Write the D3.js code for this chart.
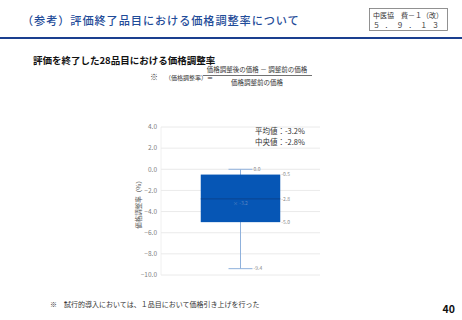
<!DOCTYPE html>
<html lang="ja">
<head>
    <meta charset="utf-8">
    <title>価格調整率</title>
    <style>
        body { margin: 0; background: white; }
        svg { display: block; font-family: "Noto Sans CJK JP", sans-serif; }
        .tick-label { font-size: 6.5px; fill: #808080; text-anchor: end; }
        .grid { stroke: #e4e4e4; stroke-width: 0.8; }
        .val { font-size: 5px; fill: #8a8a8a; }
    </style>
    <script src="https://d3js.org/d3.v7.min.js"></script>
</head>
<body>
<svg id="chart" width="462" height="320"></svg>
<script>
    // データ
    const categories = ["価格調整率"];
    const boxMin = [-9.4];
    const boxQ1 = [-5.0];
    const boxMedian = [-2.8];
    const boxQ3 = [-0.5];
    const boxMax = [0.0];
    const boxMean = [-3.2];
    const yTicks = [4, 2, 0, -2, -4, -6, -8, -10];

    const svg = d3.select("#chart");

    // ヘッダー
    svg.append("text")
        .attr("x", 22).attr("y", 25)
        .attr("font-size", 11.2).attr("fill", "#1f4c99")
        .attr("letter-spacing", 0.9)
        .attr("font-weight", 500)
        .text("（参考）評価終了品目における価格調整率について");

    svg.append("rect")
        .attr("x", 369.5).attr("y", 8.5).attr("width", 78).attr("height", 22)
        .attr("fill", "white").attr("stroke", "#777").attr("stroke-width", 0.8);
    svg.append("text")
        .attr("x", 373).attr("y", 18).attr("font-size", 7).attr("fill", "#333")
        .text("中医協　費－１（改）");
    svg.append("text")
        .attr("x", 373).attr("y", 28).attr("font-size", 7).attr("fill", "#333")
        .attr("letter-spacing", 4.8)
        .text("５．９．１３");

    svg.append("rect")
        .attr("x", 0).attr("y", 37).attr("width", 462).attr("height", 2)
        .attr("fill", "#1a3f8f");

    svg.append("text")
        .attr("x", 33).attr("y", 64)
        .attr("font-size", 9.5).attr("font-weight", "bold").attr("fill", "#111")
        .text("評価を終了した28品目における価格調整率");

    // 式
    svg.append("text")
        .attr("x", 150).attr("y", 80).attr("font-size", 8).attr("fill", "#333")
        .text("※");
    svg.append("text")
        .attr("x", 165).attr("y", 79.5).attr("font-size", 6).attr("fill", "#333")
        .text("（価格調整率）＝");
    svg.append("text")
        .attr("x", 257).attr("y", 72).attr("font-size", 6.5).attr("fill", "#333")
        .attr("text-anchor", "middle")
        .text("価格調整後の価格 － 調整前の価格");
    svg.append("line")
        .attr("x1", 203).attr("x2", 312).attr("y1", 75.5).attr("y2", 75.5)
        .attr("stroke", "#333").attr("stroke-width", 0.7);
    svg.append("text")
        .attr("x", 257).attr("y", 85).attr("font-size", 6.5).attr("fill", "#333")
        .attr("text-anchor", "middle")
        .text("価格調整前の価格");

    // チャート
    const left = 161, right = 320;
    const y = d3.scaleLinear().domain([-10, 4]).range([275, 127]);
    const x = d3.scaleBand().domain(categories).range([left, right]).paddingInner(0).paddingOuter(0.5);

    const grid = svg.append("g");
    yTicks.forEach(t => {
        grid.append("line").attr("class", "grid")
            .attr("x1", left).attr("x2", right)
            .attr("y1", y(t)).attr("y2", y(t));
        grid.append("text").attr("class", "tick-label")
            .attr("x", left - 4).attr("y", y(t) + 2.3)
            .text(d3.format(".1f")(t));
    });
    svg.append("line")
        .attr("x1", left).attr("x2", left).attr("y1", y(4)).attr("y2", y(-10))
        .attr("stroke", "#ececec").attr("stroke-width", 0.8);

    svg.append("text")
        .attr("transform", `translate(141,${(y(4) + y(-10)) / 2 + 2}) rotate(-90)`)
        .attr("font-size", 6.5).attr("fill", "#555").attr("text-anchor", "middle")
        .text("価格調整率（%）");

    categories.forEach((c, i) => {
        const x0 = x(c), w = x.bandwidth(), cx = x0 + w / 2;
        const capW = 24;
        const wc = "#8fb1dc";
        // ひげ
        svg.append("line").attr("x1", cx).attr("x2", cx)
            .attr("y1", y(boxMax[i])).attr("y2", y(boxMin[i]))
            .attr("stroke", wc).attr("stroke-width", 1);
        [boxMax[i], boxMin[i]].forEach(v => {
            svg.append("line").attr("x1", cx - capW / 2).attr("x2", cx + capW / 2)
                .attr("y1", y(v)).attr("y2", y(v))
                .attr("stroke", wc).attr("stroke-width", 1);
        });
        // 箱
        svg.append("rect")
            .attr("x", x0).attr("y", y(boxQ3[i]))
            .attr("width", w).attr("height", y(boxQ1[i]) - y(boxQ3[i]))
            .attr("fill", "#0656b5");
        svg.append("line").attr("x1", x0).attr("x2", x0 + w)
            .attr("y1", y(boxMedian[i])).attr("y2", y(boxMedian[i]))
            .attr("stroke", "#0a3f86").attr("stroke-width", 0.8);
        // 平均
        svg.append("text").attr("x", cx).attr("y", y(boxMean[i]) + 2)
            .attr("font-size", 5).attr("fill", "#5e86c2").attr("text-anchor", "middle")
            .text("× " + boxMean[i].toFixed(1));
        // 値ラベル
        [[boxMax[i], cx + capW / 2 + 1], [boxMin[i], cx + capW / 2 + 1],
         [boxQ3[i], x0 + w + 1], [boxMedian[i], x0 + w + 1], [boxQ1[i], x0 + w + 1]]
            .forEach(([v, lx]) => {
                svg.append("text").attr("class", "val")
                    .attr("x", lx).attr("y", y(v) + 1.8)
                    .text(v.toFixed(1));
            });
        // 統計値
        svg.append("text").attr("x", 255).attr("y", 134)
            .attr("font-size", 7.5).attr("fill", "#333")
            .text("平均値：" + boxMean[i].toFixed(1) + "%");
        svg.append("text").attr("x", 255).attr("y", 145)
            .attr("font-size", 7.5).attr("fill", "#333")
            .text("中央値：" + boxMedian[i].toFixed(1) + "%");
    });

    // 脚注
    svg.append("text")
        .attr("x", 50).attr("y", 307).attr("font-size", 7).attr("fill", "#333")
        .text("※　試行的導入においては、１品目において価格引き上げを行った");
    svg.append("text")
        .attr("x", 455).attr("y", 313).attr("font-size", 10.5).attr("font-weight", "bold")
        .attr("fill", "#111").attr("text-anchor", "end")
        .text("40");
</script>
</body>
</html>
